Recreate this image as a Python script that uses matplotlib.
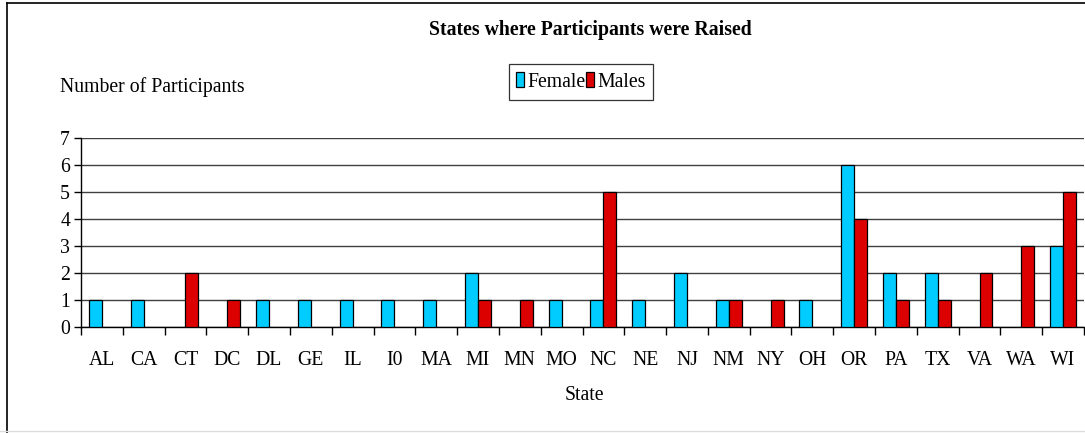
import numpy as np
import matplotlib
matplotlib.use("Agg")
import matplotlib.pyplot as plt
from matplotlib.patches import Patch
from matplotlib.lines import Line2D

states = ["AL", "CA", "CT", "DC", "DL", "GE", "IL", "I0", "MA", "MI", "MN", "MO",
          "NC", "NE", "NJ", "NM", "NY", "OH", "OR", "PA", "TX", "VA", "WA", "WI"]
females = [1, 1, 0, 0, 1, 1, 1, 1, 1, 2, 0, 1, 1, 1, 2, 1, 0, 1, 6, 2, 2, 0, 0, 3]
males = [0, 0, 2, 1, 0, 0, 0, 0, 0, 1, 1, 0, 5, 0, 0, 1, 1, 0, 4, 1, 1, 2, 3, 5]

FEM_COLOR = "#00CCFF"
MALE_COLOR = "#DD0000"
FS = 14.2

plt.rcParams["font.family"] = ["Liberation Serif", "DejaVu Serif"]

fig = plt.figure(figsize=(10.85, 4.33), dpi=100)
ax = fig.add_axes([81 / 1085, 1 - 327 / 433, (1084 - 81) / 1085, (327 - 137.6) / 433])

x = np.arange(len(states))
w = 0.31
fem = np.array(females)
mal = np.array(males)
# empty categories get no bar at all (no outline on the baseline)
ax.bar(x[fem > 0], fem[fem > 0], width=-w, align="edge", color=FEM_COLOR,
       edgecolor="black", linewidth=0.9, zorder=3)
ax.bar(x[mal > 0], mal[mal > 0], width=w, align="edge", color=MALE_COLOR,
       edgecolor="black", linewidth=0.9, zorder=3)

ax.set_xlim(-0.5, len(states) - 0.5)
ax.set_ylim(0, 7)
ax.set_yticks(range(8))
ax.yaxis.grid(True, color="#404040", linewidth=1.0, zorder=0)
ax.set_axisbelow(True)

ax.set_xticks(x)
ax.set_xticklabels(states, fontsize=FS)
ax.set_xticks(np.arange(-0.5, len(states)), minor=True)
ax.tick_params(axis="x", which="major", length=0, pad=17)
ax.tick_params(axis="x", which="minor", length=6, width=1.0, direction="out")
ax.tick_params(axis="y", labelsize=FS, length=5, width=1.0, pad=3)

for s in ["top", "right"]:
    ax.spines[s].set_visible(False)
ax.spines["left"].set_linewidth(1.0)
ax.spines["bottom"].set_linewidth(1.0)

fig.text(590 / 1085, 1 - 30 / 433, "States where Participants were Raised",
         ha="center", va="center", fontsize=FS, fontweight="bold")
fig.text(60 / 1085, 1 - 87 / 433, "Number of Participants", ha="left", va="center",
         fontsize=FS)
fig.text(584 / 1085, 1 - 395 / 433, "State", ha="center", va="center", fontsize=FS)

handles = [Patch(facecolor=FEM_COLOR, edgecolor="black", linewidth=0.9),
           Patch(facecolor=MALE_COLOR, edgecolor="black", linewidth=0.9)]
leg = fig.legend(handles, ["Females", "Males"], loc="center",
                 bbox_to_anchor=(581 / 1085, 1 - 82 / 433), ncol=2, fontsize=FS,
                 frameon=True, fancybox=False, handlelength=0.4, handleheight=0.8,
                 handletextpad=0.15, columnspacing=-0.35, borderpad=0.4,
                 borderaxespad=0)
leg.get_frame().set_edgecolor("black")
leg.get_frame().set_linewidth(0.9)

# outer chart frame
fig.add_artist(Line2D([7 / 1085, 7 / 1085], [1 - 3 / 433, 0], color="black",
                      linewidth=1.2, transform=fig.transFigure))
fig.add_artist(Line2D([7 / 1085, 1], [1 - 3 / 433, 1 - 3 / 433], color="black",
                      linewidth=1.2, transform=fig.transFigure))
fig.add_artist(Line2D([0, 1], [1 - 431 / 433, 1 - 431 / 433], color="#dddddd",
                      linewidth=1.0, transform=fig.transFigure))

fig.savefig("out.png", dpi=100)
